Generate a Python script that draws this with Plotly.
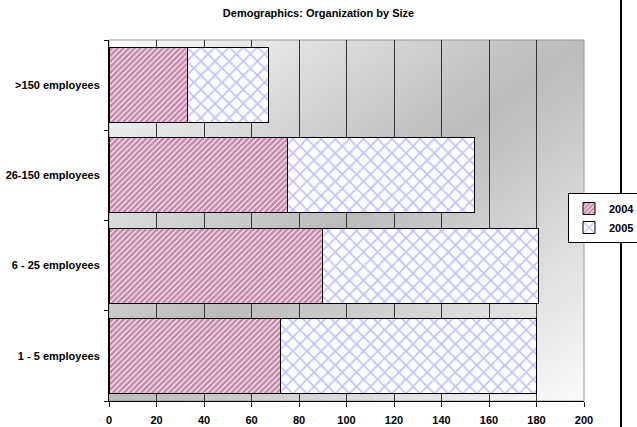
import base64
import plotly.graph_objects as go

categories = ["1 - 5 employees", "6 - 25 employees", "26-150 employees", ">150 employees"]
series_names = ["2004", "2005"]
values_2004 = [72, 90, 75, 33]
values_2005 = [108, 91, 79, 34]
x_ticks = [0, 20, 40, 60, 80, 100, 120, 140, 160, 180, 200]

W, H = 637, 427
L, R, T, B = 109, 637 - 584, 40, 427 - 401
pw, ph = W - L - R, H - T - B

def px_x(p):
    return (p - L) / pw

def px_y(p):
    return (H - B - p) / ph

font = dict(family="Liberation Sans, Arial, sans-serif", size=11, color="black", weight="bold")

svg = (
    '<svg xmlns="http://www.w3.org/2000/svg" width="100" height="100" preserveAspectRatio="none">'
    '<defs><linearGradient id="g" x1="0" y1="0" x2="1" y2="1">'
    '<stop offset="0" stop-color="#fbfbfb"/>'
    '<stop offset="0.5" stop-color="#bbbbbb"/>'
    '<stop offset="1" stop-color="#fbfbfb"/>'
    '</linearGradient></defs>'
    '<rect x="0" y="0" width="100" height="100" fill="url(#g)"/></svg>'
)
svg_uri = "data:image/svg+xml;base64," + base64.b64encode(svg.encode()).decode()

fig = go.Figure()
fig.add_trace(go.Bar(
    y=categories, x=values_2004, name=series_names[0], orientation="h",
    marker=dict(color="white", line=dict(color="black", width=1),
                pattern=dict(shape="/", fgcolor="#8e1456", bgcolor="white", size=4, solidity=0.72)),
))
fig.add_trace(go.Bar(
    y=categories, x=values_2005, name=series_names[1], orientation="h",
    marker=dict(color="white", line=dict(color="black", width=1),
                pattern=dict(shape="x", fgcolor="#8585ff", bgcolor="white", size=10, solidity=0.33)),
))

fig.update_layout(
    width=W, height=H,
    margin=dict(l=L, r=R, t=T, b=B, autoexpand=False),
    paper_bgcolor="white",
    plot_bgcolor="rgba(0,0,0,0)",
    barmode="stack",
    bargap=0.17,
    font=font,
    title=dict(text="Demographics: Organization by Size", x=0.5, xref="container",
               y=1 - 13 / H, yref="container", yanchor="middle", xanchor="center",
               font=font),
    showlegend=True,
    legend=dict(x=px_x(568), y=px_y(218), xanchor="left", yanchor="middle",
                bgcolor="white", bordercolor="black", borderwidth=1,
                font=font, traceorder="normal", tracegroupgap=0, itemwidth=30),
    xaxis=dict(range=[0, 200], tickvals=x_ticks, ticks="outside", ticklen=5, tickcolor="black",
               showline=True, linecolor="black", linewidth=1,
               showgrid=True, gridcolor="#333333", gridwidth=1, zeroline=False,
               tickfont=font, ticklabelstandoff=4, fixedrange=True),
    yaxis=dict(categoryorder="array", categoryarray=categories, ticks="outside", ticklen=4,
               tickson="boundaries", tickcolor="black", showline=True, linecolor="black",
               linewidth=1, showgrid=False, tickfont=font, ticklabelstandoff=6),
    images=[dict(source=svg_uri, xref="paper", yref="paper", x=0, y=1, sizex=1, sizey=1,
                 sizing="stretch", layer="below", xanchor="left", yanchor="top")],
    shapes=[
        dict(type="rect", xref="paper", yref="paper", x0=0, x1=1, y0=0, y1=1,
             line=dict(color="#9a9a9a", width=1), layer="below"),
        dict(type="line", xref="paper", yref="paper", x0=px_x(621), x1=px_x(621),
             y0=px_y(440), y1=px_y(-10), line=dict(color="black", width=2), layer="above"),
    ],
)

# Remove the browser's default 8px body margin so the figure fills the window.
fig.write_html("out.html", config={"displayModeBar": False},
               post_script="document.body.style.margin='0px';")
